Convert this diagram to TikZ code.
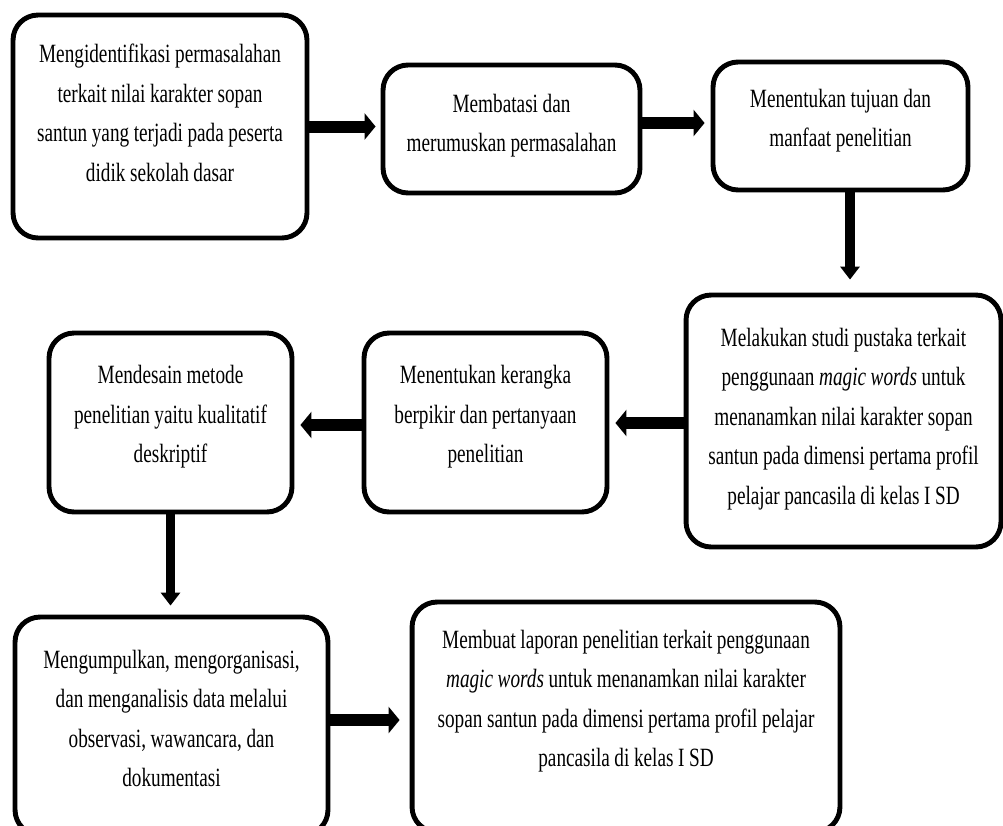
\documentclass[tikz,border=0pt]{standalone}
\usepackage{fontspec}
\setmainfont{Liberation Serif}[FakeStretch=0.73]
\usetikzlibrary{arrows.meta,calc}

\begin{document}
\begin{tikzpicture}[
    x=0.02cm, y=-0.02cm,
    stepbox/.style={rectangle, rounded corners=0.5cm, draw=black, line width=2.8pt,
                    align=center, font=\fontsize{15}{22.5}\selectfont,
                    execute at begin node={\spaceskip=2.6pt\relax}},
    padbottom/.style={execute at end node={\endgraf\vspace*{#1}}},
    harrow/.style={-{Triangle[width=0.52cm,length=0.22cm]}, line width=0.24cm},
    varrow/.style={-{Triangle[width=0.38cm,length=0.26cm]}, line width=0.19cm}
]
\useasboundingbox (0,0) rectangle (1003,825);
\clip (0,0) rectangle (1003,825);

% First row (left to right)
\node[stepbox, minimum width=5.88cm, minimum height=4.46cm, text width=5.4cm, padbottom=0.54cm] (identifikasi) at (160,126.5)
     {Mengidentifikasi permasalahan\\ terkait nilai karakter sopan\\ santun yang terjadi pada peserta\\ didik sekolah dasar};
\node[stepbox, minimum width=5.14cm, minimum height=2.56cm, text width=4.7cm, padbottom=0.14cm] (batasi) at (511.5,129)
     {Membatasi dan\\ merumuskan permasalahan};
\node[stepbox, minimum width=5.1cm, minimum height=2.56cm, text width=4.6cm, padbottom=0.22cm] (tujuan) at (840.5,126)
     {Menentukan tujuan dan\\ manfaat penelitian};

\draw[harrow, shorten >=0.1cm] (identifikasi.east) -- (identifikasi.east -| batasi.west);
\draw[harrow, shorten >=0.12cm] ([yshift=0.12cm]batasi.east) -- ([yshift=0.12cm]batasi.east -| tujuan.west);

% Second row (right to left)
\node[stepbox, minimum width=6.3cm, minimum height=5.04cm, text width=5.9cm, padbottom=0.08cm] (studi) at (843.5,421)
     {Melakukan studi pustaka terkait\\ penggunaan \textit{magic words} untuk\\ menanamkan nilai karakter sopan\\ santun pada dimensi pertama profil\\ pelajar pancasila di kelas I SD};
\node[stepbox, minimum width=4.86cm, minimum height=3.58cm, text width=4.4cm, padbottom=0.22cm] (kerangka) at (485.5,422.5)
     {Menentukan kerangka\\ berpikir dan pertanyaan\\ penelitian};
\node[stepbox, minimum width=4.86cm, minimum height=3.58cm, text width=4.4cm, padbottom=0.22cm] (metode) at (170.5,422.5)
     {Mendesain metode\\ penelitian yaitu kualitatif\\ deskriptif};

\draw[varrow, shorten >=0.26cm] ([xshift=0.19cm]tujuan.south) -- ([xshift=0.19cm]tujuan.south |- studi.north);
\draw[harrow, shorten >=0.12cm] ([yshift=-0.04cm]studi.west) -- ([yshift=-0.04cm]studi.west -| kerangka.east);
\draw[harrow, shorten >=0.12cm] ([yshift=-0.05cm]kerangka.west) -- ([yshift=-0.05cm]kerangka.west -| metode.east);

% Third row (left to right)
\node[stepbox, minimum width=6.26cm, minimum height=4.36cm, text width=5.8cm, padbottom=0.3cm] (kumpulkan) at (171.5,726)
     {Mengumpulkan, mengorganisasi,\\ dan menganalisis data melalui\\ observasi, wawancara, dan\\ dokumentasi};
\node[stepbox, minimum width=8.56cm, minimum height=4.6cm, text width=8.1cm, padbottom=0.64cm] (laporan) at (626,717)
     {Membuat laporan penelitian terkait penggunaan\\ \textit{magic words} untuk menanamkan nilai karakter\\ sopan santun pada dimensi pertama profil pelajar\\ pancasila di kelas I SD};

\draw[varrow, shorten >=0.18cm] (metode.south) -- (metode.south |- kumpulkan.north);
\draw[harrow, shorten >=0.2cm] ([yshift=0.12cm]kumpulkan.east) -- ([yshift=0.12cm]kumpulkan.east -| laporan.west);

\end{tikzpicture}
\end{document}
